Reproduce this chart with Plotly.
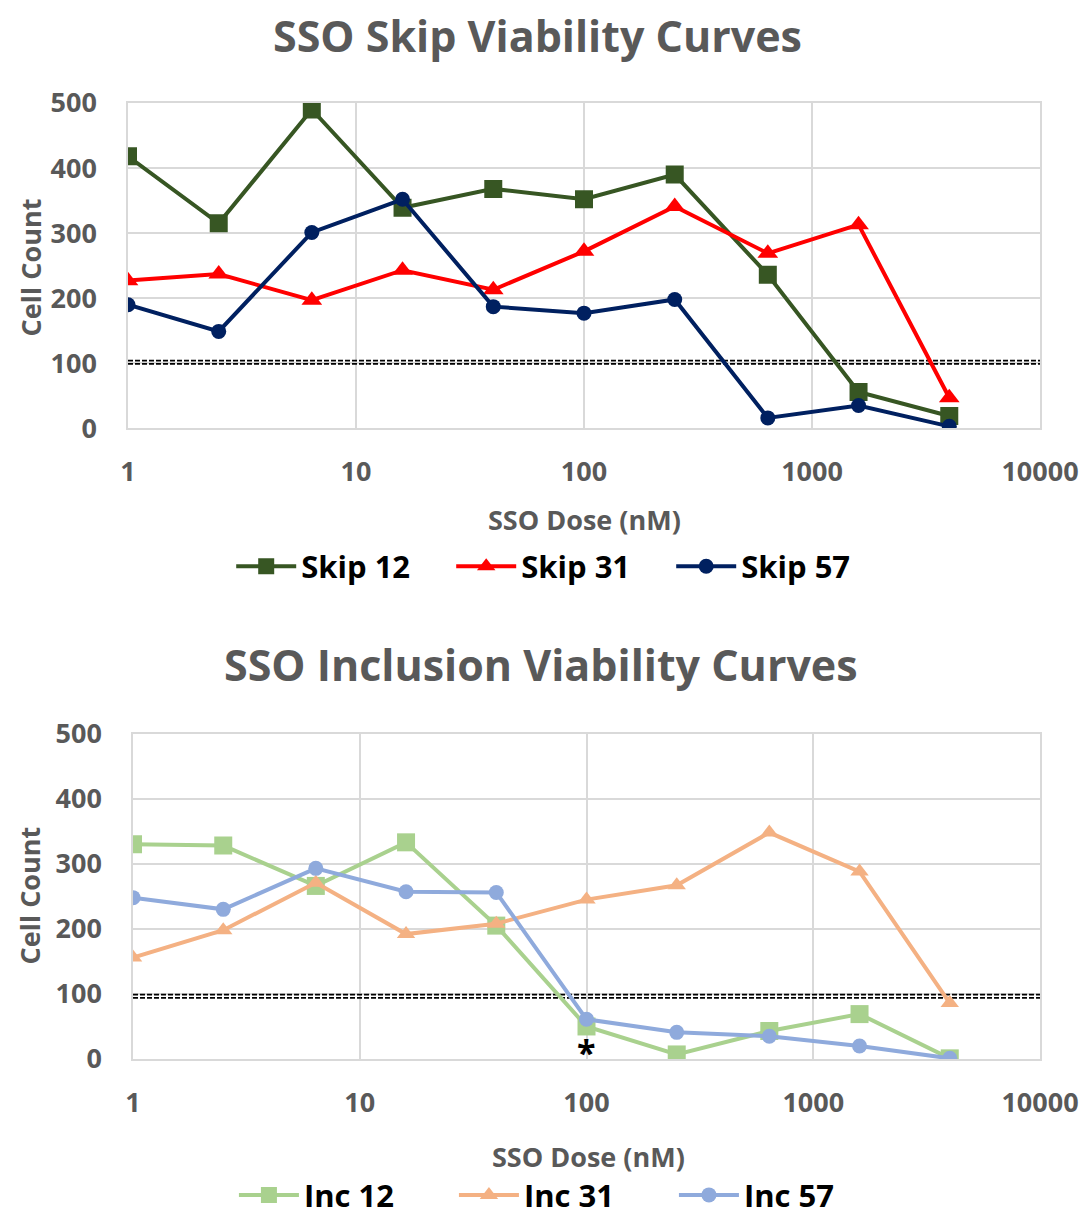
import plotly.graph_objects as go

# SSO dose series (nM)
doses = [1, 2.5, 6.4, 16, 40, 100, 250, 640, 1600, 4000]

# Skip SSO cell counts
skip_12 = [418, 315, 490, 339, 368, 352, 390, 236, 56, 19]
skip_31 = [227, 237, 197, 243, 213, 272, 341, 269, 313, 47]
skip_57 = [190, 149, 301, 352, 187, 177, 198, 16, 35, 3]

# Inclusion SSO cell counts
inc_12 = [330, 328, 266, 333, 205, 50, 7, 43, 69, 1]
inc_31 = [156, 198, 271, 192, 208, 245, 267, 348, 288, 86]
inc_57 = [248, 230, 293, 257, 256, 61, 41, 35, 20, 1]

# Viability threshold drawn as a double dashed rule
threshold_top = [99, 104]
threshold_bottom = [94, 99]

x_ticks = [1, 10, 100, 1000, 10000]
x_tick_labels = ["1", "10", "100", "1000", "10000"]
y_ticks = [0, 100, 200, 300, 400, 500]

FONT = "Open Sans"
GREY = "#595959"
GRID = "#d9d9d9"

fig = go.Figure()

top_series = [
    ("Skip 12", skip_12, "#375623", "square", 18),
    ("Skip 31", skip_31, "#ff0000", "triangle-up", 18),
    ("Skip 57", skip_57, "#002060", "circle", 15),
]
bottom_series = [
    ("Inc 12", inc_12, "#a9d18e", "square", 18),
    ("Inc 31", inc_31, "#f4b183", "triangle-up", 16),
    ("Inc 57", inc_57, "#8faadc", "circle", 15),
]

dash_line = dict(color="black", width=1.6, dash="5px,2px")
for yv in threshold_top:
    fig.add_trace(go.Scatter(x=[1, 10000], y=[yv, yv], mode="lines", line=dash_line,
                             showlegend=False, hoverinfo="skip",
                             xaxis="x", yaxis="y"))
for yv in threshold_bottom:
    fig.add_trace(go.Scatter(x=[1, 10000], y=[yv, yv], mode="lines", line=dash_line,
                             showlegend=False, hoverinfo="skip",
                             xaxis="x2", yaxis="y2"))

for name, vals, color, sym, size in top_series:
    fig.add_trace(go.Scatter(x=doses, y=vals, name=name, mode="lines+markers",
                             line=dict(color=color, width=4),
                             marker=dict(symbol=sym, size=size, color=color),
                             xaxis="x", yaxis="y", legend="legend"))

for name, vals, color, sym, size in bottom_series:
    fig.add_trace(go.Scatter(x=doses, y=vals, name=name, mode="lines+markers",
                             line=dict(color=color, width=4),
                             marker=dict(symbol=sym, size=size, color=color),
                             xaxis="x2", yaxis="y2", legend="legend2"))

xaxis_common = dict(
    type="log", range=[0, 4], tickvals=x_ticks, ticktext=x_tick_labels,
    showgrid=True, gridcolor=GRID, gridwidth=1.5,
    showline=True, linecolor=GRID, linewidth=1.5, mirror=True,
    ticks="outside", ticklen=19, tickcolor="rgba(0,0,0,0)",
    tickfont=dict(family=FONT, size=27, color=GREY, weight="bold"),
    zeroline=False,
)
yaxis_common = dict(
    range=[0, 500], tickvals=y_ticks,
    showgrid=True, gridcolor=GRID, gridwidth=1.5,
    showline=True, linecolor=GRID, linewidth=1.5, mirror=True,
    ticks="outside", ticklen=24, tickcolor="rgba(0,0,0,0)",
    tickfont=dict(family=FONT, size=27, color=GREY, weight="bold"),
    zeroline=False,
)

legend_font = dict(family=FONT, size=31, color="black", weight="bold")

fig.update_layout(
    width=1084, height=1216,
    margin=dict(l=128, r=44, t=103, b=157, autoexpand=False),
    paper_bgcolor="white", plot_bgcolor="white",
    xaxis=dict(xaxis_common, domain=[0, 1], anchor="y"),
    yaxis=dict(yaxis_common, domain=[0.6597, 1], anchor="x"),
    xaxis2=dict(xaxis_common, domain=[0.0055, 1], anchor="y2"),
    yaxis2=dict(yaxis_common, domain=[0, 0.3403], anchor="x2"),
    legend=dict(orientation="h", x=0.475, xanchor="center", y=0.515, yanchor="middle",
                font=legend_font, itemwidth=60, entrywidth=145,
                bgcolor="rgba(0,0,0,0)"),
    legend2=dict(orientation="h", x=0.478, xanchor="center", y=-0.1425, yanchor="middle",
                 font=legend_font, itemwidth=60, entrywidth=145,
                 bgcolor="rgba(0,0,0,0)"),
)

annotations = [
    dict(text="SSO Skip Viability Curves", x=0.449, y=1.071, xref="paper", yref="paper",
         font=dict(family=FONT, size=43, color=GREY, weight="bold")),
    dict(text="SSO Inclusion Viability Curves", x=0.453, y=0.413, xref="paper", yref="paper",
         font=dict(family=FONT, size=43, color=GREY, weight="bold")),
    dict(text="SSO Dose (nM)", x=0.5, y=0.564, xref="paper", yref="paper",
         font=dict(family=FONT, size=27, color=GREY, weight="bold")),
    dict(text="SSO Dose (nM)", x=0.505, y=-0.1025, xref="paper", yref="paper",
         font=dict(family=FONT, size=27, color=GREY, weight="bold")),
    dict(text="Cell Count", x=-0.1075, y=0.828, xref="paper", yref="paper", textangle=-90,
         font=dict(family=FONT, size=27, color=GREY, weight="bold")),
    dict(text="Cell Count", x=-0.1075, y=0.171, xref="paper", yref="paper", textangle=-90,
         font=dict(family=FONT, size=27, color=GREY, weight="bold")),
    dict(text="*", x=2, y=11, xref="x2", yref="y2",
         font=dict(family=FONT, size=34, color="black", weight="bold")),
]
for a in annotations:
    a.update(showarrow=False, xanchor="center", yanchor="middle")
fig.update_layout(annotations=annotations)

fig.write_html("out.html")
